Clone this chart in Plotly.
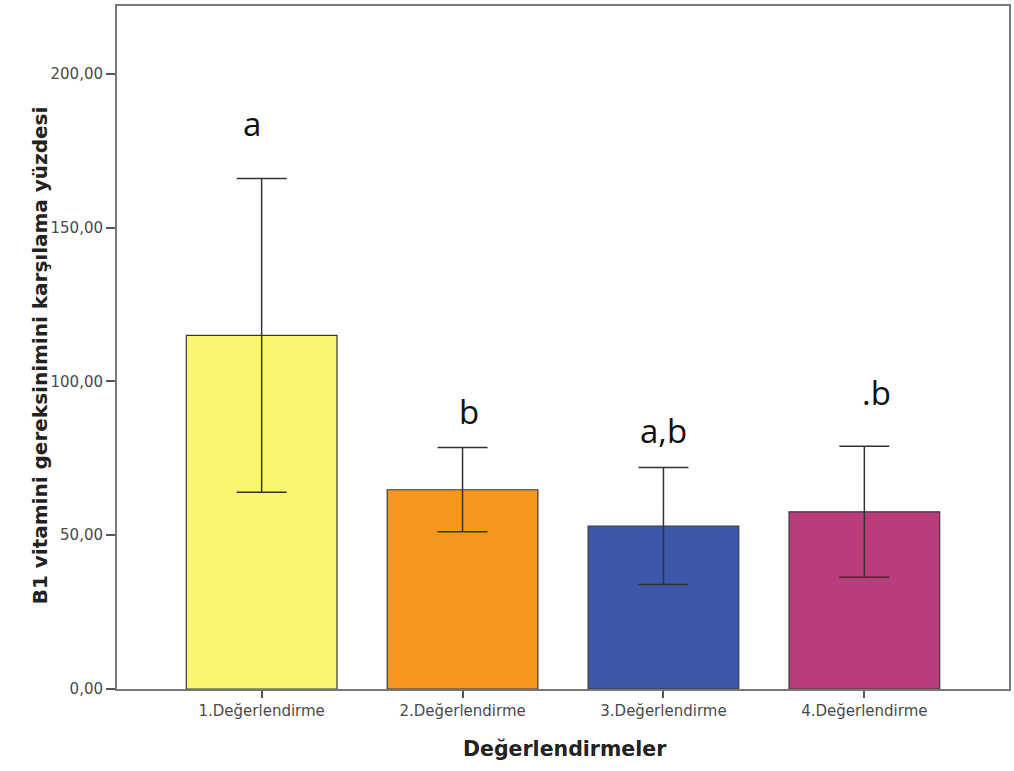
import plotly.graph_objects as go

# Mean B1 coverage per assessment with error bar half-lengths
categories = ["1.Değerlendirme", "2.Değerlendirme", "3.Değerlendirme", "4.Değerlendirme"]
means = [115.0, 64.8, 53.0, 57.6]
errors = [51.0, 13.7, 19.0, 21.3]
letters = ["a", "b", "a,b", ".b"]
letter_y = [184.0, 90.3, 84.0, 96.3]
letter_xshift = [-10, 6, 0, 12]
colors = ["#F9F56E", "#F7961E", "#3D58A9", "#BA3C7B"]

y_tickvals = [0, 50, 100, 150, 200]
y_ticktext = ["0,00", "50,00", "100,00", "150,00", "200,00"]

x_idx = list(range(len(categories)))

fig = go.Figure()
fig.add_trace(go.Bar(
    x=x_idx,
    y=means,
    width=0.75,
    marker=dict(color=colors, line=dict(color="#3a3a3a", width=1.2)),
    error_y=dict(type="data", array=errors, visible=True,
                 color="#333333", thickness=1.5, width=25),
    showlegend=False,
))

for xi, txt, yy, dx in zip(x_idx, letters, letter_y, letter_xshift):
    fig.add_annotation(x=xi, y=yy, xref="x", yref="y", text=txt,
                       showarrow=False, xshift=dx,
                       font=dict(family="Open Sans, sans-serif", size=33, color="#111111"))

fig.add_annotation(x=-0.086, y=0.489, xref="paper", yref="paper",
                   xanchor="center", yanchor="middle",
                   text="<b>B1 vitamini gereksinimini karşılama yüzdesi</b>",
                   textangle=-90, showarrow=False,
                   font=dict(family="DejaVu Sans, sans-serif", size=20, color="#222222"))
fig.add_annotation(x=0.502, y=-0.088, xref="paper", yref="paper",
                   xanchor="center", yanchor="middle",
                   text="<b>Değerlendirmeler</b>", showarrow=False,
                   font=dict(family="DejaVu Sans, sans-serif", size=20.5, color="#222222"))

fig.update_layout(
    width=1014, height=771,
    margin=dict(l=117, r=3, t=6, b=82),
    paper_bgcolor="white", plot_bgcolor="white",
    font=dict(family="DejaVu Sans, sans-serif"),
)

fig.update_xaxes(
    range=[-0.72, 3.72],
    tickvals=x_idx, ticktext=categories,
    ticks="outside", ticklen=7, tickwidth=1.5, tickcolor="#555555",
    tickfont=dict(size=15, color="#4a4a4a"),
    showline=True, linecolor="#777777", linewidth=2, mirror=True,
    showgrid=False, zeroline=False,
)
fig.update_yaxes(
    range=[0, 222.1],
    tickvals=y_tickvals, ticktext=y_ticktext,
    ticks="outside", ticklen=9, tickwidth=1.5, tickcolor="#555555",
    tickfont=dict(size=15, color="#4a4a4a"),
    showline=True, linecolor="#777777", linewidth=2, mirror=True,
    showgrid=False, zeroline=False,
)

fig.write_html("out.html")
